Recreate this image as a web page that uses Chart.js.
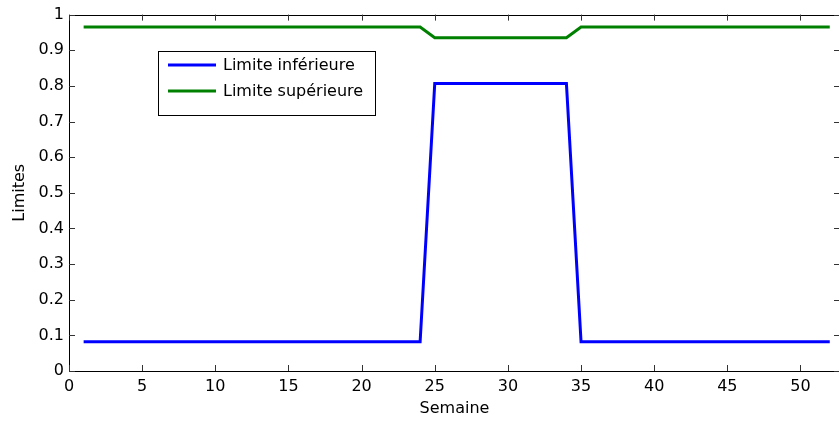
<!DOCTYPE html>
<html lang="fr">
<head>
  <meta charset="UTF-8">
  <title>Limites par semaine</title>
  <script src="https://cdn.jsdelivr.net/npm/chart.js"></script>
  <style>
    html, body {
      margin: 0;
      padding: 0;
      background: #fff;
      overflow: hidden;
    }

    .wrap {
      position: relative;
      width: 839px;
      height: 421px;
      overflow: hidden;
    }

    canvas {
      display: block;
    }
  </style>
</head>
<body>

  <div class="wrap">
    <canvas id="limitsChart" width="846" height="421"></canvas>
  </div>

  <script>
    const weeks = [
      1, 2, 3, 4, 5, 6, 7, 8, 9, 10, 11, 12, 13, 14, 15, 16, 17, 18, 19, 20,
      21, 22, 23, 24, 25, 26, 27, 28, 29, 30, 31, 32, 33, 34, 35, 36, 37, 38, 39, 40,
      41, 42, 43, 44, 45, 46, 47, 48, 49, 50, 51, 52
    ];
    const lowerLimit = [
      0.082, 0.082, 0.082, 0.082, 0.082, 0.082, 0.082, 0.082, 0.082, 0.082,
      0.082, 0.082, 0.082, 0.082, 0.082, 0.082, 0.082, 0.082, 0.082, 0.082,
      0.082, 0.082, 0.082, 0.082, 0.807, 0.807, 0.807, 0.807, 0.807, 0.807,
      0.807, 0.807, 0.807, 0.807, 0.082, 0.082, 0.082, 0.082, 0.082, 0.082,
      0.082, 0.082, 0.082, 0.082, 0.082, 0.082, 0.082, 0.082, 0.082, 0.082,
      0.082, 0.082
    ];
    const upperLimit = [
      0.965, 0.965, 0.965, 0.965, 0.965, 0.965, 0.965, 0.965, 0.965, 0.965,
      0.965, 0.965, 0.965, 0.965, 0.965, 0.965, 0.965, 0.965, 0.965, 0.965,
      0.965, 0.965, 0.965, 0.965, 0.935, 0.935, 0.935, 0.935, 0.935, 0.935,
      0.935, 0.935, 0.935, 0.935, 0.965, 0.965, 0.965, 0.965, 0.965, 0.965,
      0.965, 0.965, 0.965, 0.965, 0.965, 0.965, 0.965, 0.965, 0.965, 0.965,
      0.965, 0.965
    ];
    const xTicks = [0, 5, 10, 15, 20, 25, 30, 35, 40, 45, 50];
    const yTicks = [0, 0.1, 0.2, 0.3, 0.4, 0.5, 0.6, 0.7, 0.8, 0.9, 1];

    const FONT = "'DejaVu Sans', 'Liberation Sans', Arial, sans-serif";
    const FONT_SIZE = 16;

    // box around the plot with inward tick marks on all four sides, plus the legend
    const framePlugin = {
      id: 'frame',
      afterDraw(chart) {
        const ctx = chart.ctx;
        const a = chart.chartArea;
        const xs = chart.scales.x, ys = chart.scales.y;
        ctx.save();
        ctx.strokeStyle = '#000';
        ctx.lineWidth = 1;
        ctx.strokeRect(Math.round(a.left) + 0.5, Math.round(a.top) + 0.5,
          Math.round(a.right - a.left), Math.round(a.bottom - a.top));

        ctx.strokeStyle = '#333';
        ctx.beginPath();
        xTicks.forEach(v => {
          const px = Math.round(xs.getPixelForValue(v)) + 0.5;
          ctx.moveTo(px, a.bottom); ctx.lineTo(px, a.bottom - 6);
          ctx.moveTo(px, a.top); ctx.lineTo(px, a.top + 6);
        });
        yTicks.forEach(v => {
          const py = Math.round(ys.getPixelForValue(v)) + 0.5;
          ctx.moveTo(a.left, py); ctx.lineTo(a.left + 6, py);
          ctx.moveTo(a.right, py); ctx.lineTo(a.right - 6, py);
        });
        ctx.stroke();

        // legend box
        const lx = 158.5, ly = 51.5, lw = 217, lh = 64;
        ctx.fillStyle = '#fff';
        ctx.fillRect(lx, ly, lw, lh);
        ctx.strokeStyle = '#000';
        ctx.lineWidth = 1;
        ctx.strokeRect(lx, ly, lw, lh);
        ctx.font = FONT_SIZE + 'px ' + FONT;
        ctx.textBaseline = 'middle';
        chart.data.datasets.forEach((ds, i) => {
          const y = 65 + i * 26;
          ctx.strokeStyle = ds.borderColor;
          ctx.lineWidth = 3;
          ctx.beginPath();
          ctx.moveTo(168, y); ctx.lineTo(216, y);
          ctx.stroke();
          ctx.fillStyle = '#000';
          ctx.fillText(ds.label, 223, y + 1);
        });
        ctx.restore();
      }
    };

    const ctx = document.getElementById('limitsChart').getContext('2d');
    new Chart(ctx, {
      type: 'line',
      data: {
        datasets: [
          {
            label: 'Limite inférieure',
            data: weeks.map((w, i) => ({ x: w, y: lowerLimit[i] })),
            borderColor: '#0000ff',
            borderWidth: 3,
            pointRadius: 0,
            tension: 0,
            fill: false
          },
          {
            label: 'Limite supérieure',
            data: weeks.map((w, i) => ({ x: w, y: upperLimit[i] })),
            borderColor: '#008000',
            borderWidth: 3,
            pointRadius: 0,
            tension: 0,
            fill: false
          }
        ]
      },
      options: {
        responsive: false,
        animation: false,
        devicePixelRatio: 1,
        layout: { padding: { top: 12, right: 6, left: 0, bottom: 0 } },
        plugins: {
          legend: { display: false },
          tooltip: { enabled: false }
        },
        scales: {
          x: {
            type: 'linear',
            min: 0,
            max: 52.7,
            afterBuildTicks: s => { s.ticks = xTicks.map(v => ({ value: v })); },
            afterFit: s => { s.height = 50; },
            grid: { display: false, drawTicks: false },
            border: { display: false },
            ticks: {
              color: '#000',
              padding: 6,
              maxRotation: 0,
              autoSkip: false,
              callback: v => String(v),
              font: { family: FONT, size: FONT_SIZE }
            },
            title: {
              display: true,
              text: 'Semaine',
              color: '#000',
              padding: { top: 0, bottom: 3 },
              font: { family: FONT, size: FONT_SIZE }
            }
          },
          y: {
            min: 0,
            max: 1,
            afterBuildTicks: s => { s.ticks = yTicks.map(v => ({ value: v })); },
            afterFit: s => { s.width = 69; },
            grid: { display: false, drawTicks: false },
            border: { display: false },
            ticks: {
              color: '#000',
              padding: 5,
              autoSkip: false,
              callback: v => String(v),
              font: { family: FONT, size: FONT_SIZE }
            },
            title: {
              display: true,
              text: 'Limites',
              color: '#000',
              padding: { top: 10, bottom: 0 },
              font: { family: FONT, size: FONT_SIZE }
            }
          }
        }
      },
      plugins: [framePlugin]
    });
  </script>

</body>
</html>
